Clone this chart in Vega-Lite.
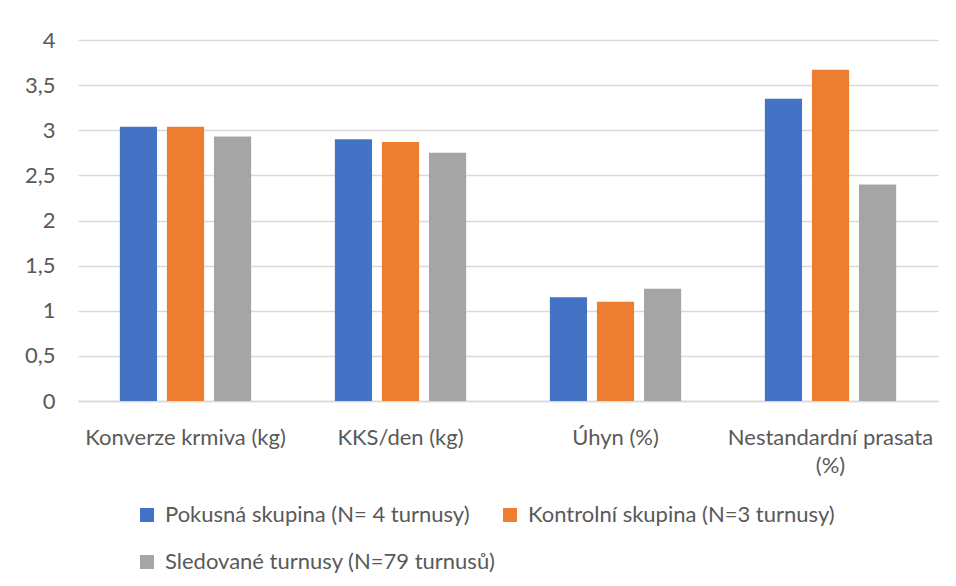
{
  "$schema": "https://vega.github.io/schema/vega-lite/v6.json",
  "width": 860,
  "height": 361,
  "autosize": "none",
  "padding": {"left": 78, "top": 40, "right": 18, "bottom": 185},
  "background": "white",
  "data": {
    "values": [
      {"kategorie": "Konverze krmiva (kg)", "skupina": "Pokusná skupina (N= 4 turnusy)", "hodnota": 3.04},
      {"kategorie": "Konverze krmiva (kg)", "skupina": "Kontrolní skupina (N=3 turnusy)", "hodnota": 3.04},
      {"kategorie": "Konverze krmiva (kg)", "skupina": "Sledované turnusy (N=79 turnusů)", "hodnota": 2.93},
      {"kategorie": "KKS/den (kg)", "skupina": "Pokusná skupina (N= 4 turnusy)", "hodnota": 2.90},
      {"kategorie": "KKS/den (kg)", "skupina": "Kontrolní skupina (N=3 turnusy)", "hodnota": 2.87},
      {"kategorie": "KKS/den (kg)", "skupina": "Sledované turnusy (N=79 turnusů)", "hodnota": 2.75},
      {"kategorie": "Úhyn (%)", "skupina": "Pokusná skupina (N= 4 turnusy)", "hodnota": 1.15},
      {"kategorie": "Úhyn (%)", "skupina": "Kontrolní skupina (N=3 turnusy)", "hodnota": 1.10},
      {"kategorie": "Úhyn (%)", "skupina": "Sledované turnusy (N=79 turnusů)", "hodnota": 1.245},
      {"kategorie": "Nestandardní prasata (%)", "skupina": "Pokusná skupina (N= 4 turnusy)", "hodnota": 3.35},
      {"kategorie": "Nestandardní prasata (%)", "skupina": "Kontrolní skupina (N=3 turnusy)", "hodnota": 3.67},
      {"kategorie": "Nestandardní prasata (%)", "skupina": "Sledované turnusy (N=79 turnusů)", "hodnota": 2.40}
    ]
  },
  "mark": {"type": "bar"},
  "encoding": {
    "x": {
      "field": "kategorie",
      "type": "nominal",
      "sort": null,
      "scale": {"paddingInner": 0, "paddingOuter": 0},
      "axis": {
        "title": null,
        "labelAngle": 0,
        "ticks": false,
        "domainColor": "#d9d9d9",
        "domainWidth": 1.3,
        "labelPadding": 36,
        "labelLineHeight": 28,
        "labelBaseline": "middle",
        "labelLimit": 400,
        "labelExpr": "datum.value == 'Nestandardní prasata (%)' ? ['Nestandardní prasata', '(%)'] : datum.value"
      }
    },
    "xOffset": {
      "field": "skupina",
      "type": "nominal",
      "sort": null,
      "scale": {"paddingInner": 0.21, "paddingOuter": 0.89}
    },
    "y": {
      "field": "hodnota",
      "type": "quantitative",
      "scale": {"domain": [0, 4]},
      "axis": {
        "title": null,
        "values": [0, 0.5, 1, 1.5, 2, 2.5, 3, 3.5, 4],
        "labelExpr": "replace(format(datum.value, '~g'), '.', ',')",
        "domain": false,
        "ticks": false,
        "labelPadding": 23,
        "gridColor": "#d9d9d9",
        "gridWidth": 1.3
      }
    },
    "color": {
      "field": "skupina",
      "type": "nominal",
      "sort": null,
      "scale": {
        "domain": ["Pokusná skupina (N= 4 turnusy)", "Kontrolní skupina (N=3 turnusy)", "Sledované turnusy (N=79 turnusů)"],
        "range": ["#4472c4", "#ed7d31", "#a5a5a5"]
      },
      "legend": {
        "title": null,
        "orient": "none",
        "legendX": 58,
        "legendY": 464,
        "direction": "horizontal",
        "columns": 2,
        "gridAlign": "none",
        "columnPadding": 3,
        "rowPadding": 25,
        "symbolType": "square",
        "symbolSize": 196,
        "symbolStrokeWidth": 0,
        "labelOffset": 7,
        "padding": 0
      }
    }
  },
  "config": {
    "font": "Lato",
    "view": {"stroke": null},
    "axis": {"labelFont": "Lato", "labelFontSize": 22, "labelColor": "#595959"},
    "legend": {"labelFont": "Lato", "labelFontSize": 22, "labelColor": "#595959", "labelLimit": 500}
  }
}
